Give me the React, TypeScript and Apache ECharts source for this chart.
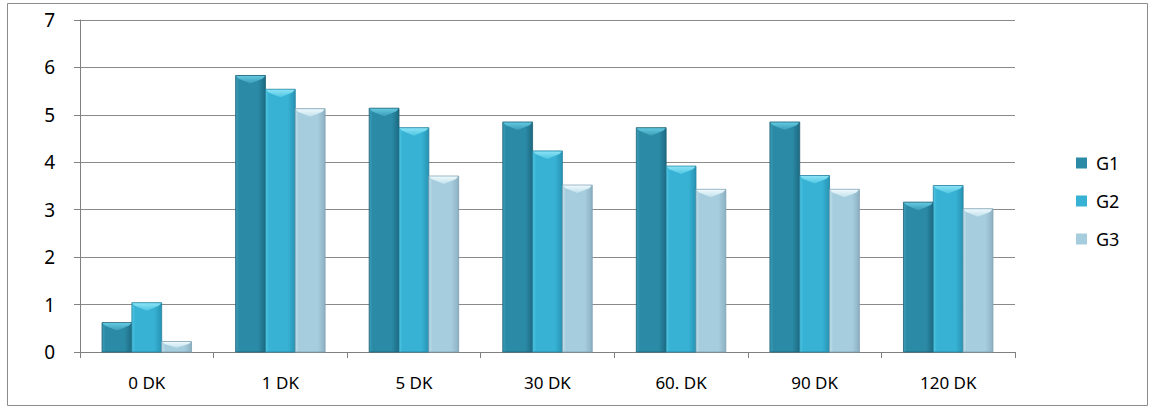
import React, { useEffect, useRef } from "react";
import * as echarts from "echarts";

const categories = ["0 DK", "1 DK", "5 DK", "30 DK", "60. DK", "90 DK", "120 DK"];
const seriesNames = ["G1", "G2", "G3"];
const g1 = [0.62, 5.83, 5.14, 4.85, 4.73, 4.85, 3.16];
const g2 = [1.04, 5.54, 4.73, 4.24, 3.92, 3.72, 3.51];
const g3 = [0.22, 5.13, 3.71, 3.52, 3.43, 3.43, 3.02];
const yTicks = [0, 1, 2, 3, 4, 5, 6, 7];

// left edge, middle, right edge, cap highlight
const palettes = [
  { l: "#3c9db7", m: "#2b8ba7", r: "#1d6a82", cap: "#62c8e0", line: "#1a5f75" },
  { l: "#4fc6e2", m: "#37b2d4", r: "#2893b3", cap: "#8ae2f5", line: "#23829f" },
  { l: "#bfe0ec", m: "#a6cddd", r: "#8cb1c3", cap: "#eef9fc", line: "#7d9fb1" },
];

const GROUP_FRACTION = 0.67;

function makeRenderItem(s: number) {
  const pal = palettes[s];
  return (params: any, api: any) => {
    const idx = api.value(0);
    const val = api.value(1);
    const top = api.coord([idx, val]);
    const base = api.coord([idx, 0]);
    const band = api.size([1, 0])[0];
    const bw = (band * GROUP_FRACTION) / 3;
    const x0 = top[0] - (band * GROUP_FRACTION) / 2 + s * bw;
    const x1 = x0 + bw;
    const y0 = top[1];
    const y1 = base[1];
    const h = y1 - y0;
    const capH = Math.min(8, h * 0.6);
    const xc = (x0 + x1) / 2;
    return {
      type: "group",
      children: [
        {
          type: "rect",
          shape: { x: x0, y: y0, width: bw, height: h },
          style: {
            fill: new echarts.graphic.LinearGradient(0, 0, 1, 0, [
              { offset: 0, color: pal.l },
              { offset: 0.12, color: pal.m },
              { offset: 0.75, color: pal.m },
              { offset: 1, color: pal.r },
            ]),
            stroke: pal.line,
            lineWidth: 0.8,
          },
        },
        {
          type: "polygon",
          shape: {
            points: [
              [x0 + 0.5, y0 + 0.5],
              [x1 - 0.5, y0 + 0.5],
              [x1 - 3, y0 + capH * 0.4],
              [xc, y0 + capH],
              [x0 + 3, y0 + capH * 0.4],
            ],
          },
          style: {
            fill: new echarts.graphic.LinearGradient(0, 0, 0, 1, [
              { offset: 0, color: pal.cap },
              { offset: 1, color: pal.l },
            ]),
          },
        },
      ],
    };
  };
}

export default function App() {
  const ref = useRef<HTMLDivElement>(null);
  useEffect(() => {
    if (!ref.current) return;
    const chart = echarts.init(ref.current, undefined, { renderer: "svg" });
    const data = [g1, g2, g3];
    chart.setOption({
      animation: false,
      backgroundColor: "#ffffff",
      textStyle: { fontFamily: "Noto Sans" },
      graphic: [
        {
          type: "rect",
          shape: { x: 7.5, y: 3.5, width: 1140, height: 402 },
          style: { fill: "none", stroke: "#8c8c8c", lineWidth: 1 },
          silent: true,
        },
      ],
      grid: { left: 80, right: 139, top: 20, bottom: 58 },
      legend: {
        orient: "vertical",
        left: 1071,
        top: 149,
        itemGap: 20,
        itemWidth: 11,
        itemHeight: 11,
        icon: "rect",
        textStyle: { fontSize: 18, color: "#000", fontFamily: "Noto Sans", padding: [0, 0, 0, 4] },
        data: seriesNames,
      },
      xAxis: {
        type: "category",
        data: categories,
        axisLine: { lineStyle: { color: "#808080", width: 1 } },
        axisTick: { show: true, length: 6, lineStyle: { color: "#808080" } },
        axisLabel: { fontSize: 17, color: "#000", margin: 22 },
        splitLine: { show: false },
      },
      yAxis: {
        type: "value",
        min: yTicks[0],
        max: yTicks[yTicks.length - 1],
        interval: 1,
        axisLine: { show: true, lineStyle: { color: "#808080", width: 1 } },
        axisTick: { show: true, length: 6, lineStyle: { color: "#808080" } },
        axisLabel: { fontSize: 19, color: "#000", margin: 25 },
        splitLine: { lineStyle: { color: "#8a8a8a", width: 1 } },
      },
      series: seriesNames.map((name, s) => ({
        name,
        type: "custom",
        renderItem: makeRenderItem(s),
        itemStyle: { color: palettes[s].m },
        encode: { x: 0, y: 1 },
        data: data[s].map((v, i) => [i, v]),
        z: 2,
      })),
    });
    return () => chart.dispose();
  }, []);
  return (
    <div
      ref={ref}
      style={{ position: "fixed", left: 0, top: 0, width: 1154, height: 410 }}
    />
  );
}
